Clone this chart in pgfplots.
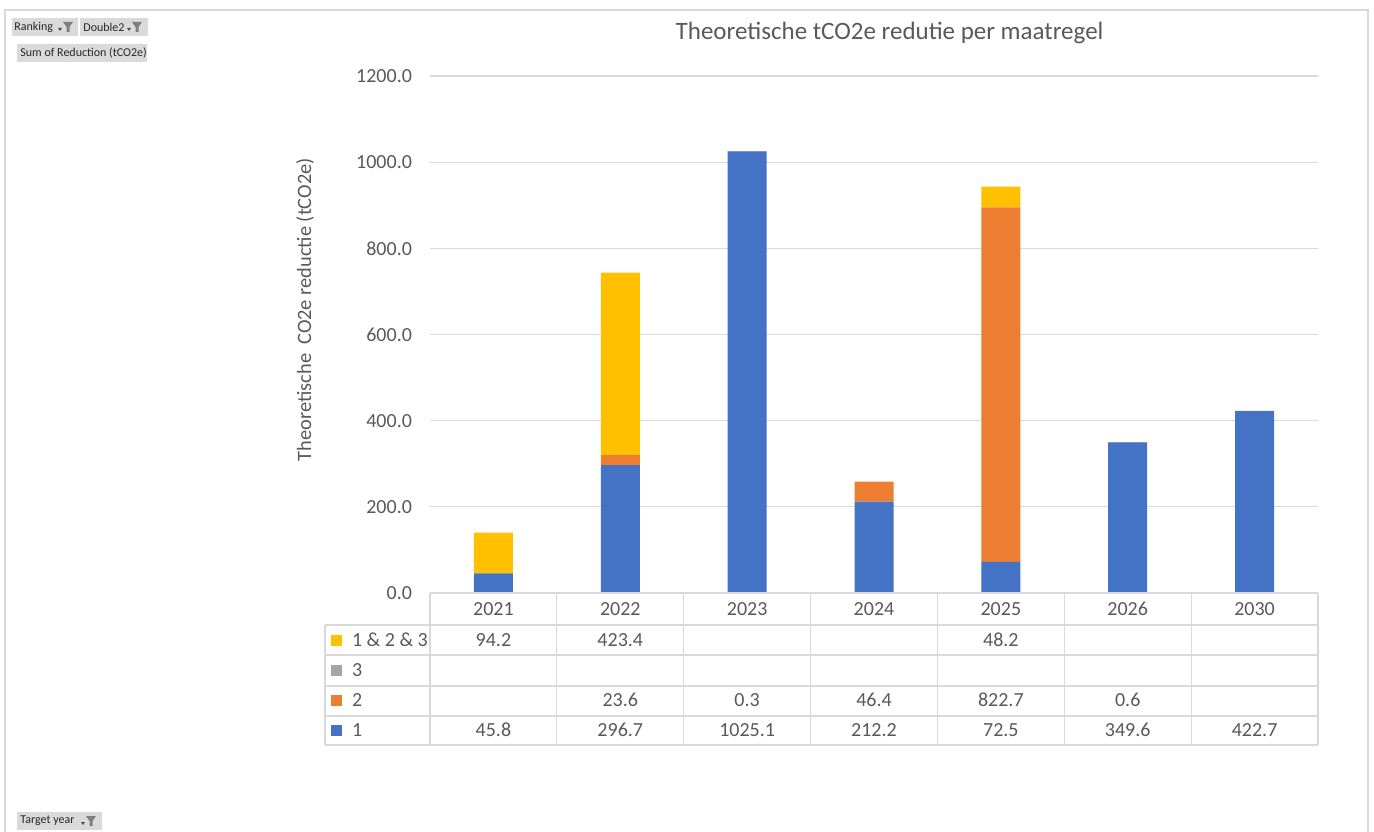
\documentclass[border=0pt]{standalone}
\usepackage{fontspec}
\setmainfont{Carlito}
\usepackage{pgfplots}
\pgfplotsset{compat=1.18}
\usepackage{pgfplotstable}

\definecolor{txt}{HTML}{595959}
\definecolor{gridc}{HTML}{D9D9D9}
\definecolor{r1}{HTML}{4472C4}
\definecolor{r2}{HTML}{ED7D31}
\definecolor{r3}{HTML}{A5A5A5}
\definecolor{r123}{HTML}{FFC000}
\definecolor{btn}{HTML}{DADADA}
\definecolor{icon}{HTML}{7F7F7F}

% reduction per target year (0 = 2021 ... 6 = 2030)
\pgfplotstableread{
x r1 r2 r3 r123
0 45.8 0 0 94.2
1 296.7 23.6 0 423.4
2 1025.1 0.3 0 0
3 212.2 46.4 0 0
4 72.5 822.7 0 48.2
5 349.6 0.6 0 0
6 422.7 0 0 0
}\reduct

\newcommand{\filt}[2]{%
  \fill[black!70] (#1,#2+1) -- (#1+4,#2+1) -- (#1+2,#2+4) -- cycle;
  \fill[icon] (#1+5,#2-5) -- (#1+15,#2-5) -- (#1+11.5,#2) -- (#1+11.5,#2+5)
    -- (#1+8.5,#2+5) -- (#1+8.5,#2) -- cycle;}

\begin{document}
\begin{tikzpicture}
\path[use as bounding box] (0,0) rectangle (687pt,415.5pt);
\begin{axis}[
  at={(215pt,119pt)}, anchor=south west,
  scale only axis, width=444pt, height=258.5pt,
  xmin=-0.5, xmax=6.5, ymin=0, ymax=1200,
  ybar stacked, bar width=19.5pt,
  xtick=\empty, ytick distance=200,
  ymajorgrids, grid style={gridc, line width=0.6pt},
  axis line style={draw=none}, major tick length=0pt,
  tick label style={font=\fontsize{10}{12}\selectfont, text=txt},
  yticklabel style={xshift=-5.5pt, /pgf/number format/fixed,
    /pgf/number format/fixed zerofill, /pgf/number format/precision=1,
    /pgf/number format/1000 sep={}, /pgf/number format/assume math mode=true},
  ylabel={Theoretische\ \ CO2e reductie (tCO2e)},
  ylabel style={at={(axis description cs:-0.1408,0.548)}, anchor=center,
    font=\fontsize{10.2}{12}\selectfont, text=txt},
  title={Theoretische tCO2e redutie per maatregel},
  title style={at={(axis description cs:0.5175,1.06)}, anchor=center,
    font=\fontsize{12.5}{15}\selectfont, text=txt},
  clip=false,
]
\addplot[fill=r1, draw=none] table[x=x, y=r1] {\reduct};
\addplot[fill=r2, draw=none] table[x=x, y=r2] {\reduct};
\addplot[fill=r3, draw=none] table[x=x, y=r3] {\reduct};
\addplot[fill=r123, draw=none] table[x=x, y=r123] {\reduct};
\end{axis}

\begin{scope}[yshift=415.5pt, x=0.5pt, y=-0.5pt]
  % outer frame
  \draw[gridc, line width=0.6pt] (5,850) -- (5,10) -- (1368,10) -- (1368,850);
  % data table grid
  \foreach \k in {0,...,7}
    \draw[gridc, line width=0.6pt] ({430+126.857*\k},593) -- ({430+126.857*\k},745);
  \draw[gridc, line width=0.6pt] (325,625) -- (325,745);
  \draw[gridc, line width=0.6pt] (430,593) -- (1318,593);
  \foreach \yy in {625,655,686,716,745}
    \draw[gridc, line width=0.6pt] (325,\yy) -- (1318,\yy);
  \begin{scope}[every node/.style={font=\fontsize{10}{12}\selectfont, text=txt}]
    \foreach \v [count=\i from 0] in {2021,2022,2023,2024,2025,2026,2030}
      \node at ({493.43+126.857*\i},609) {\v};
    \foreach \v [count=\i from 0] in {94.2,423.4,,,48.2,,}
      \node at ({493.43+126.857*\i},640) {\v};
    \foreach \v [count=\i from 0] in {,23.6,0.3,46.4,822.7,0.6,}
      \node at ({493.43+126.857*\i},700) {\v};
    \foreach \v [count=\i from 0] in {45.8,296.7,1025.1,212.2,72.5,349.6,422.7}
      \node at ({493.43+126.857*\i},730) {\v};
    \fill[r123] (331,634.5) rectangle (342,645.5);
    \node[anchor=west] at (345,640) {1 \& 2 \& 3};
    \fill[r3] (331,664.5) rectangle (342,675.5);
    \node[anchor=west] at (345,670) {3};
    \fill[r2] (331,694.5) rectangle (342,705.5);
    \node[anchor=west] at (345,700) {2};
    \fill[r1] (331,724.5) rectangle (342,735.5);
    \node[anchor=west] at (345,730) {1};
  \end{scope}
  % pivot field buttons
  \begin{scope}[every node/.style={font=\fontsize{6}{7}\selectfont, text=black!85, anchor=west, inner sep=0pt}]
    \fill[btn] (12,18) rectangle (78,36);
    \node at (14,27) {Ranking};
    \filt{58}{27}
    \fill[btn] (80,18) rectangle (148,36);
    \node at (83,27) {Double2};
    \filt{127}{27}
    \fill[btn] (17,44) rectangle (147,62);
    \node at (20,53) {Sum of Reduction (tCO2e)};
    \fill[btn] (17,812) rectangle (102,830);
    \node at (20,821) {Target year};
    \filt{81}{821}
  \end{scope}
\end{scope}
\end{tikzpicture}
\end{document}
